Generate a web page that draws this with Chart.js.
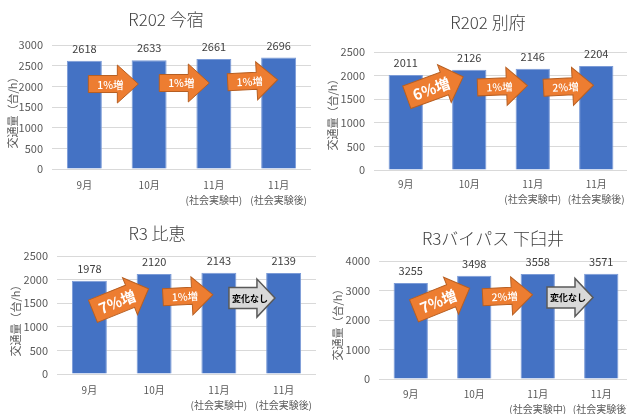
<!DOCTYPE html>
<html>
<head>
<meta charset="utf-8">
<script src="https://cdn.jsdelivr.net/npm/chart.js@4.4.1/dist/chart.umd.min.js"></script>
<style>
  html, body { margin: 0; padding: 0; background: #ffffff; }
  body { width: 627px; height: 414px; overflow: hidden; position: relative; }
  .panel { position: absolute; }
  canvas { display: block; }
</style>
</head>
<body>
<div class="panel" style="left:0;top:0"><canvas id="c1" width="330" height="207"></canvas></div>
<div class="panel" style="left:0;top:207px"><canvas id="c3" width="330" height="212"></canvas></div>
<div class="panel" style="left:313px;top:0"><canvas id="c2" width="330" height="207"></canvas></div>
<div class="panel" style="left:313px;top:207px"><canvas id="c4" width="330" height="212"></canvas></div>
<script>
// ---- data -------------------------------------------------------------
const categories = [['9月'], ['10月'], ['11月', '(社会実験中)'], ['11月', '(社会実験後)']];
const yAxisTitle = '交通量（台/h）';

const imajukuTitle = 'R202 今宿';
const imajukuValues = [2618, 2633, 2661, 2696];
const imajukuChanges = ['1%増', '1%増', '1%増'];

const beppuTitle = 'R202 別府';
const beppuValues = [2011, 2126, 2146, 2204];
const beppuChanges = ['6%増', '1%増', '2%増'];

const hieTitle = 'R3 比恵';
const hieValues = [1978, 2120, 2143, 2139];
const hieChanges = ['7%増', '1%増', '変化なし'];

const shimousuiTitle = 'R3バイパス 下臼井';
const shimousuiValues = [3255, 3498, 3558, 3571];
const shimousuiChanges = ['7%増', '2%増', '変化なし'];

const imajukuTicks = { max: 3000, step: 500 };
const beppuTicks = { max: 2500, step: 500 };
const hieTicks = { max: 2500, step: 500 };
const shimousuiTicks = { max: 4000, step: 1000 };

// ---- look & layout ----------------------------------------------------
const FONT = "'Noto Sans CJK JP', 'Noto Sans', sans-serif";
const BAR_COLOR = '#4472c4';
const BAR_EDGE = '#7b9bd7';
const GRID_COLOR = '#d9d9d9';
const AXIS_TEXT = '#595959';
const LABEL_TEXT = '#404040';

const arrowStyles = {
  small: { len: 50, headW: 38, bodyH: 17, headLen: 21, fill: '#ed7d31', stroke: '#b75f22', lw: 1,
           font: '500 10.5px ' + FONT, color: '#ffffff', textDx: -3 },
  large: { len: 60, headW: 40, bodyH: 24, headLen: 20, fill: '#ed7d31', stroke: '#b75f22', lw: 1,
           font: 'bold 15px ' + FONT, color: '#ffffff', textDx: -4 },
  flat:  { len: 46, headW: 38, bodyH: 21, headLen: 18, fill: '#d9d9d9', stroke: '#595959', lw: 1.5,
           font: 'bold 9px ' + FONT, color: '#000000', textDx: -2 }
};

function styleFor(label) {
  if (label === '変化なし') return arrowStyles.flat;
  return parseFloat(label) >= 5 ? arrowStyles.large : arrowStyles.small;
}

const panels = [
  { id: 'c1', title: imajukuTitle, values: imajukuValues, changes: imajukuChanges, ticks: imajukuTicks,
    plot: { left: 52, right: 311, top: 45, bottom: 169 }, titleAt: [166, 20], yTitleAt: [13, 110], xPad: 8,
    arrowAt: [ { level: 2056, dx: -3.4, angle: 0 }, { level: 2081, dx: 2.8, angle: 0 }, { level: 2129, dx: 6.4, angle: -3 } ] },
  { id: 'c2', title: beppuTitle, values: beppuValues, changes: beppuChanges, ticks: beppuTicks,
    plot: { left: 61, right: 315, top: 52, bottom: 170 }, titleAt: [175, 23], yTitleAt: [20, 112], xPad: 6,
    arrowAt: [ { level: 1758, dx: -2.5, angle: -20 }, { level: 1769, dx: 1.5, angle: -2 }, { level: 1769, dx: 4, angle: -3 } ] },
  { id: 'c3', title: hieTitle, values: hieValues, changes: hieChanges, ticks: hieTicks,
    plot: { left: 57, right: 316, top: 49, bottom: 167 }, titleAt: [157, 27], yTitleAt: [16, 111], xPad: 8,
    arrowAt: [ { level: 1568, dx: -1, angle: -22 }, { level: 1653, dx: 1.4, angle: -3 }, { level: 1610, dx: 0.7, angle: 0 } ] },
  { id: 'c4', title: shimousuiTitle, values: shimousuiValues, changes: shimousuiChanges, ticks: shimousuiTicks,
    plot: { left: 66, right: 320, top: 54, bottom: 172 }, titleAt: [180, 32], yTitleAt: [25, 115], xPad: 7,
    arrowAt: [ { level: 2695, dx: -0.7, angle: -22 }, { level: 2814, dx: 1.6, angle: -3 }, { level: 2763, dx: 0.5, angle: 0 } ] }
];

// ---- drawing helpers --------------------------------------------------
function drawArrow(ctx, cx, cy, angleDeg, s, label) {
  const half = s.len / 2;
  const hb = half - s.headLen;
  ctx.save();
  ctx.translate(cx, cy);
  ctx.rotate(angleDeg * Math.PI / 180);
  ctx.beginPath();
  ctx.moveTo(-half, -s.bodyH / 2);
  ctx.lineTo(hb, -s.bodyH / 2);
  ctx.lineTo(hb, -s.headW / 2);
  ctx.lineTo(half, 0);
  ctx.lineTo(hb, s.headW / 2);
  ctx.lineTo(hb, s.bodyH / 2);
  ctx.lineTo(-half, s.bodyH / 2);
  ctx.closePath();
  ctx.fillStyle = s.fill;
  ctx.fill();
  ctx.lineJoin = 'miter';
  ctx.lineWidth = s.lw;
  ctx.strokeStyle = s.stroke;
  ctx.stroke();
  ctx.fillStyle = s.color;
  ctx.font = s.font;
  ctx.textAlign = 'center';
  ctx.textBaseline = 'middle';
  ctx.fillText(label, s.textDx, 0.5);
  ctx.restore();
}

function overlay(panel) {
  return {
    id: 'overlay_' + panel.id,
    afterDatasetsDraw(chart) {
      const ctx = chart.ctx;
      const x = chart.scales.x;
      const y = chart.scales.y;
      const meta = chart.getDatasetMeta(0);

      // value labels above each bar
      ctx.save();
      ctx.fillStyle = LABEL_TEXT;
      ctx.font = '11px ' + FONT;
      ctx.textAlign = 'center';
      ctx.textBaseline = 'middle';
      meta.data.forEach((bar, i) => {
        ctx.fillText(String(panel.values[i]), bar.x, y.getPixelForValue(panel.values[i]) - 12);
      });
      ctx.restore();

      // change arrows between consecutive months
      panel.changes.forEach((label, i) => {
        const a = panel.arrowAt[i];
        const boundary = (x.getPixelForValue(i) + x.getPixelForValue(i + 1)) / 2;
        drawArrow(ctx, boundary + a.dx, y.getPixelForValue(a.level), a.angle, styleFor(label), label);
      });
    },
    afterDraw(chart) {
      const ctx = chart.ctx;
      ctx.save();
      ctx.fillStyle = '#404040';
      ctx.font = '300 17px ' + FONT;
      ctx.textAlign = 'center';
      ctx.textBaseline = 'middle';
      ctx.fillText(panel.title, panel.titleAt[0], panel.titleAt[1]);

      ctx.translate(panel.yTitleAt[0], panel.yTitleAt[1]);
      ctx.rotate(-Math.PI / 2);
      ctx.fillStyle = AXIS_TEXT;
      ctx.font = '11px ' + FONT;
      ctx.fillText(yAxisTitle, 0, 0);
      ctx.restore();
    }
  };
}

function build(panel) {
  const canvas = document.getElementById(panel.id);
  const W = canvas.width, H = canvas.height;
  new Chart(canvas, {
    type: 'bar',
    data: {
      labels: categories,
      datasets: [{
        data: panel.values,
        backgroundColor: BAR_COLOR,
        borderColor: BAR_EDGE,
        borderWidth: 1,
        barPercentage: 0.54,
        categoryPercentage: 1
      }]
    },
    options: {
      responsive: false,
      animation: false,
      devicePixelRatio: 1,
      layout: { padding: { left: 0, top: panel.plot.top, right: W - panel.plot.right, bottom: 0 } },
      plugins: { legend: { display: false }, title: { display: false }, tooltip: { enabled: false } },
      scales: {
        x: {
          grid: { display: false, drawTicks: false },
          border: { display: false },
          ticks: {
            color: AXIS_TEXT, padding: panel.xPad, maxRotation: 0, autoSkip: false,
            font: { family: FONT, size: 10, lineHeight: 1.55 }
          },
          afterFit(scale) { scale.height = H - panel.plot.bottom; }
        },
        y: {
          min: 0, max: panel.ticks.max,
          grid: { color: GRID_COLOR, lineWidth: 1, drawTicks: false },
          border: { display: false },
          ticks: { stepSize: panel.ticks.step, color: AXIS_TEXT, padding: 9,
                   font: { family: FONT, size: 11 },
                   callback: (v) => String(v) },
          afterFit(scale) { scale.width = panel.plot.left; }
        }
      }
    },
    plugins: [overlay(panel)]
  });
}

panels.forEach(build);
</script>
</body>
</html>
